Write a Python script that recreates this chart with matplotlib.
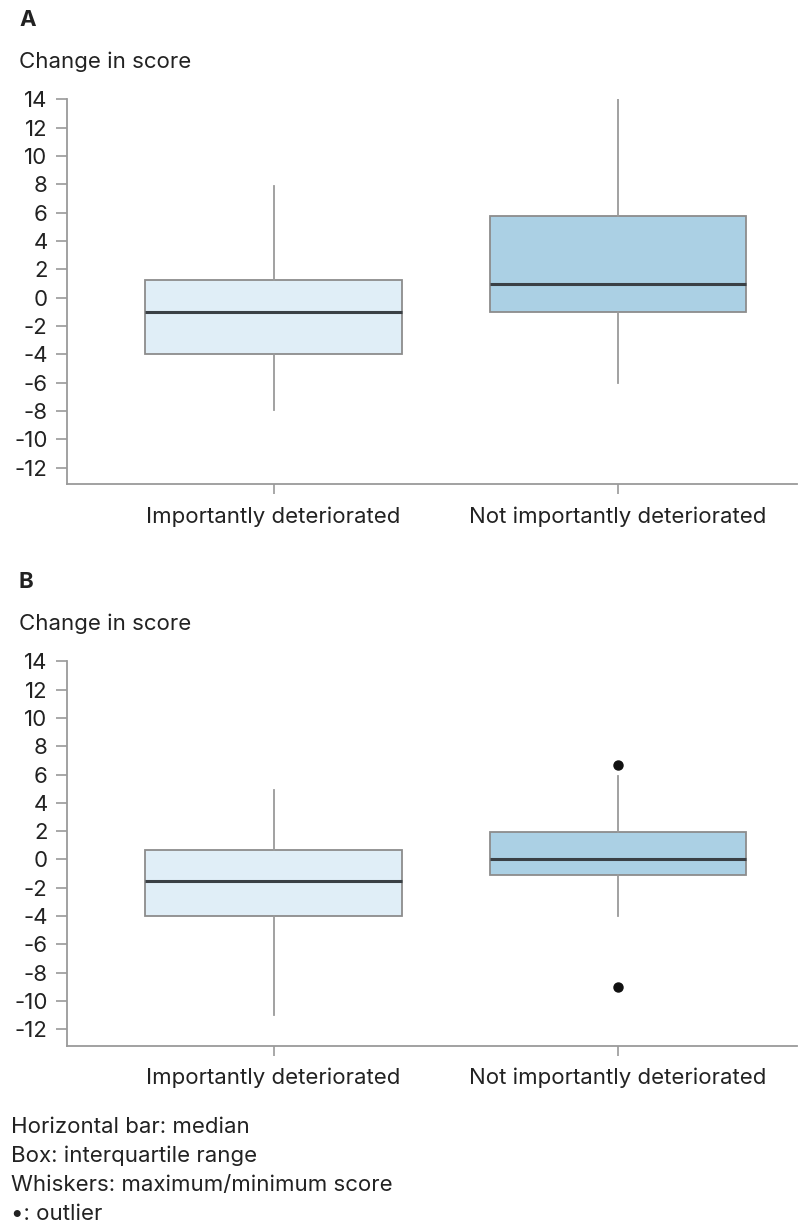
import matplotlib.pyplot as plt
import numpy as np

plt.rcParams["font.family"] = ["Inter", "Liberation Sans", "DejaVu Sans"]
plt.rcParams["axes.unicode_minus"] = False

categories = ["Importantly deteriorated", "Not importantly deteriorated"]
y_ticks = list(range(-12, 15, 2))

# panel A
a_min = [-7.9, -6.0]
a_q1 = [-4.0, -1.0]
a_med = [-1.0, 1.0]
a_q3 = [1.25, 5.75]
a_max = [7.9, 14.0]
a_out = [[], []]

# panel B
b_min = [-11.0, -4.0]
b_q1 = [-4.0, -1.1]
b_med = [-1.5, 0.0]
b_q3 = [0.7, 1.95]
b_max = [4.9, 5.9]
b_out = [[], [6.7, -9.0]]

fills = ["#e0eef7", "#abd0e4"]
notes = [
    "Horizontal bar: median",
    "Box: interquartile range",
    "Whiskers: maximum/minimum score",
    "\u2022: outlier",
]

W, H = 798, 1229
FS = 16
GREY = "#9a9a9a"
TXT = "#222222"


def draw_panel(ax, mins, q1s, meds, q3s, maxs, outs):
    stats = []
    for i in range(len(categories)):
        stats.append(dict(med=meds[i], q1=q1s[i], q3=q3s[i],
                          whislo=mins[i], whishi=maxs[i], fliers=outs[i]))
    bp = ax.bxp(stats, positions=range(len(categories)), widths=0.745,
                patch_artist=True, showcaps=False,
                boxprops=dict(edgecolor="#8c8c8c", linewidth=1.3),
                whiskerprops=dict(color=GREY, linewidth=1.3),
                medianprops=dict(color="#3a4045", linewidth=2.2),
                flierprops=dict(marker="o", markersize=6.5, markerfacecolor="#111111",
                                markeredgecolor="#111111"))
    for patch, c in zip(bp["boxes"], fills):
        patch.set_facecolor(c)
    ax.set_xlim(-0.6, 1.52)
    ax.set_ylim(-13.17, 14)
    ax.set_yticks(y_ticks)
    ax.set_yticklabels([str(t) for t in y_ticks])
    ax.set_xticks(range(len(categories)))
    ax.set_xticklabels(categories)
    for s in ["top", "right"]:
        ax.spines[s].set_visible(False)
    for s in ["left", "bottom"]:
        ax.spines[s].set_color(GREY)
        ax.spines[s].set_linewidth(1.3)
    ax.tick_params(axis="y", length=8, width=1.2, color=GREY, pad=6,
                   labelsize=FS, labelcolor=TXT)
    ax.tick_params(axis="x", length=7, width=1.2, color=GREY, pad=9,
                   labelsize=FS, labelcolor=TXT)


fig = plt.figure(figsize=(W / 100, H / 100), dpi=100)


def fx(px):
    return px / W


def fy(py):
    return 1 - py / H


ax_a = fig.add_axes([fx(67), fy(484.3), fx(797 - 67), (484.3 - 99.3) / H])
ax_b = fig.add_axes([fx(67), fy(1045.7), fx(797 - 67), (1045.7 - 661.4) / H])

draw_panel(ax_a, a_min, a_q1, a_med, a_q3, a_max, a_out)
draw_panel(ax_b, b_min, b_q1, b_med, b_q3, b_max, b_out)

fig.text(fx(19), fy(20), "A", fontsize=FS, fontweight="bold", color=TXT, va="center")
fig.text(fx(19), fy(62), "Change in score", fontsize=FS, color=TXT, va="center")
fig.text(fx(19), fy(582), "B", fontsize=FS, fontweight="bold", color=TXT, va="center")
fig.text(fx(19), fy(624), "Change in score", fontsize=FS, color=TXT, va="center")

for i, line in enumerate(notes):
    fig.text(fx(11), fy(1127 + i * 29), line, fontsize=FS, color=TXT, va="center")

fig.savefig("out.png", dpi=100)
